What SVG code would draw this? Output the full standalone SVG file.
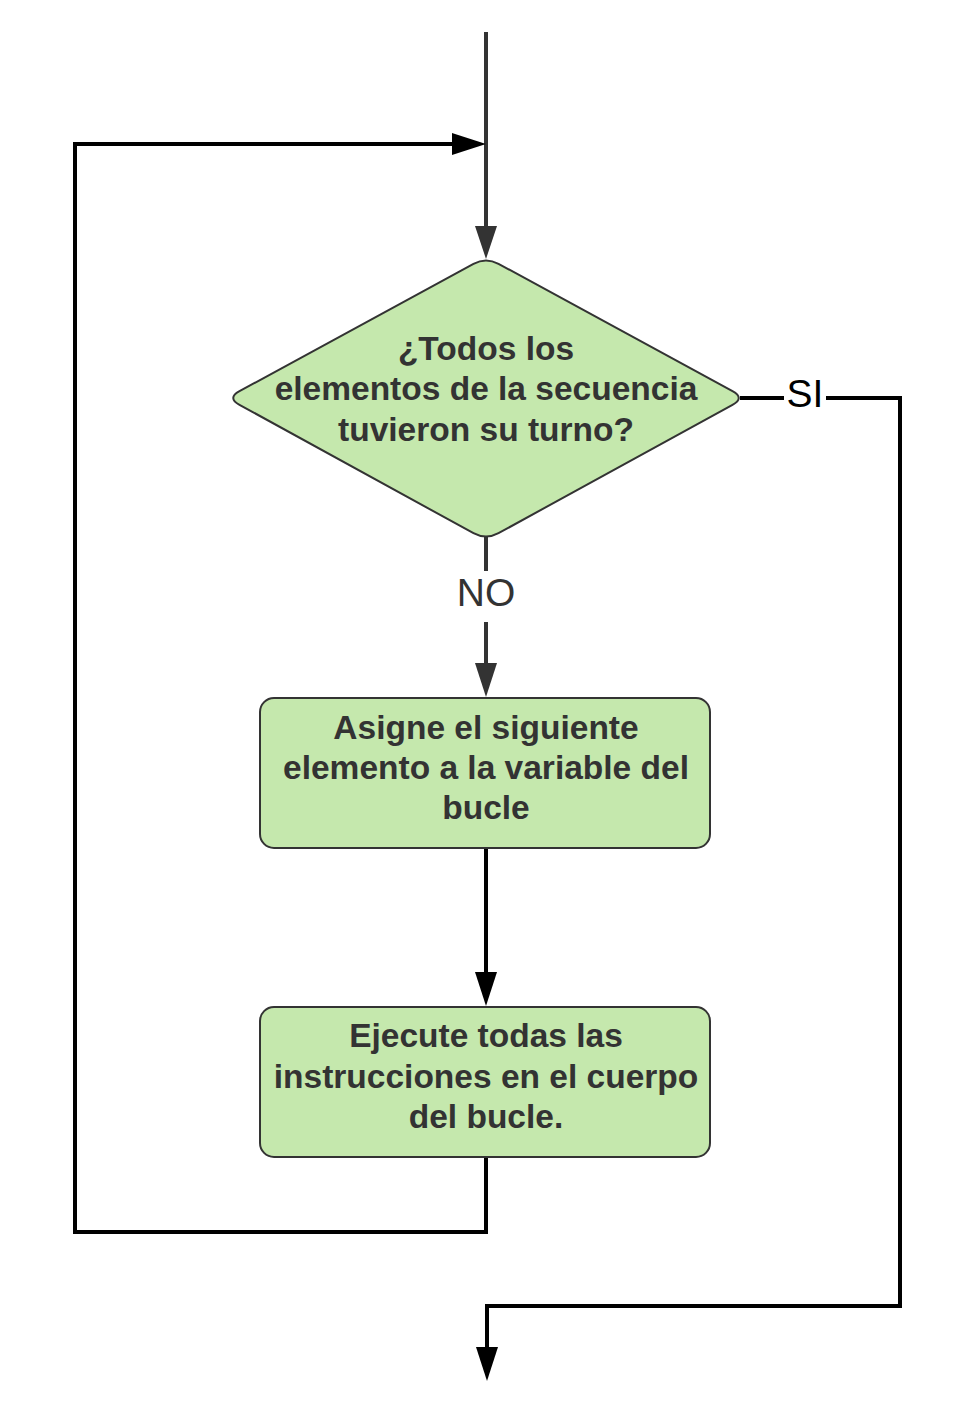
<svg xmlns="http://www.w3.org/2000/svg" width="975" height="1418" viewBox="0 0 975 1418">
<style>
.node{fill:#c5e8ad;stroke:#333;stroke-width:2}
.t{font-family:"Liberation Sans",Arial,sans-serif;font-weight:bold;font-size:33.5px;fill:#333;text-anchor:middle}
.lbl{font-family:"Liberation Sans",Arial,sans-serif;font-size:39px;text-anchor:middle}
.ln{fill:none;stroke-width:4;stroke-linejoin:miter}
.dk{stroke:#333}
.bk{stroke:#000}
</style>
<rect width="975" height="1418" fill="#fff"/>
<g id="connectors">
  <path class="ln dk" d="M486,32 V230"/>
  <polygon points="475,226 497,226 486,259" fill="#333"/>
  <path class="ln bk" d="M486,1157 V1232 H75 V144 H455"/>
  <polygon points="452,133 452,155 486,144" fill="#000"/>
  <path class="ln dk" d="M486,537 V571"/>
  <path class="ln dk" d="M486,622 V666"/>
  <polygon points="475,663 497,663 486,697" fill="#333"/>
  <path class="ln bk" d="M486,848 V975"/>
  <polygon points="475,972 497,972 486,1006" fill="#000"/>
  <path class="ln bk" d="M740,398 H784"/>
  <path class="ln bk" d="M826,398 H900 V1306 H487 V1350"/>
  <polygon points="476,1347 498,1347 487,1381" fill="#000"/>
  <text class="lbl" x="486" y="606" fill="#333">NO</text>
  <text class="lbl" x="805" y="407" fill="#000">SI</text>
</g>
<g id="decision">
  <path class="node" d="M473.5,263.8 Q486,257 498.5,263.8 L732.5,391.2 Q745,398 732.5,404.8 L498.5,533.2 Q486,540 473.5,533.2 L239.5,404.8 Q227,398 239.5,391.2 Z"/>
  <text class="t" x="486" y="360">¿Todos los</text>
  <text class="t" x="486" y="400">elementos de la secuencia</text>
  <text class="t" x="486" y="441">tuvieron su turno?</text>
</g>
<g id="assign">
  <rect class="node" x="260" y="698" width="450" height="150" rx="14"/>
  <text class="t" x="486" y="739">Asigne el siguiente</text>
  <text class="t" x="486" y="779">elemento a la variable del</text>
  <text class="t" x="486" y="819">bucle</text>
</g>
<g id="execute">
  <rect class="node" x="260" y="1007" width="450" height="150" rx="14"/>
  <text class="t" x="486" y="1047">Ejecute todas las</text>
  <text class="t" x="486" y="1088">instrucciones en el cuerpo</text>
  <text class="t" x="486" y="1128">del bucle.</text>
</g>
</svg>
